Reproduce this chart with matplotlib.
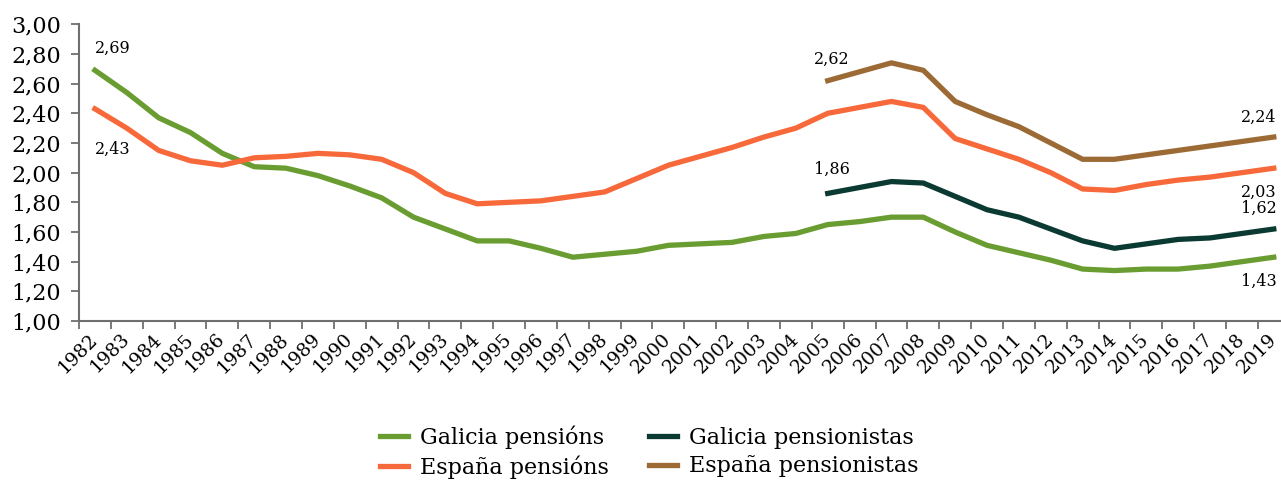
import numpy as np
import matplotlib
matplotlib.use("Agg")
import matplotlib.pyplot as plt
from matplotlib.transforms import ScaledTranslation

plt.rcParams['font.family'] = ['DejaVu Serif']

years = [str(y) for y in range(1982, 2020)]

galicia_pensions = [2.69, 2.54, 2.37, 2.27, 2.13, 2.04, 2.03, 1.98, 1.91, 1.83,
                    1.70, 1.62, 1.54, 1.54, 1.49, 1.43, 1.45, 1.47, 1.51, 1.52,
                    1.53, 1.57, 1.59, 1.65, 1.67, 1.70, 1.70, 1.60, 1.51, 1.46,
                    1.41, 1.35, 1.34, 1.35, 1.35, 1.37, 1.40, 1.43]
espana_pensions = [2.43, 2.30, 2.15, 2.08, 2.05, 2.10, 2.11, 2.13, 2.12, 2.09,
                   2.00, 1.86, 1.79, 1.80, 1.81, 1.84, 1.87, 1.96, 2.05, 2.11,
                   2.17, 2.24, 2.30, 2.40, 2.44, 2.48, 2.44, 2.23, 2.16, 2.09,
                   2.00, 1.89, 1.88, 1.92, 1.95, 1.97, 2.00, 2.03]
# pensionistas series start in 2005
galicia_pensionistas = [np.nan] * 23 + [1.86, 1.90, 1.94, 1.93, 1.84, 1.75, 1.70,
                                        1.62, 1.54, 1.49, 1.52, 1.55, 1.56, 1.59, 1.62]
espana_pensionistas = [np.nan] * 23 + [2.62, 2.68, 2.74, 2.69, 2.48, 2.39, 2.31,
                                       2.20, 2.09, 2.09, 2.12, 2.15, 2.18, 2.21, 2.24]

c_gp = '#6a9d31'
c_ep = '#f7693a'
c_gpi = '#0b3a33'
c_epi = '#9b6a35'

fig = plt.figure(figsize=(12.81, 4.83), dpi=100)
ax = fig.add_axes([79/1281, 1 - 321/483, 1210.7/1281, (321 - 24.3)/483])

x = np.arange(len(years))
lw = 3.8
ax.plot(x, galicia_pensions, color=c_gp, lw=lw, label='Galicia pensións')
ax.plot(x, espana_pensions, color=c_ep, lw=lw, label='España pensións')
ax.plot(x, galicia_pensionistas, color=c_gpi, lw=lw, label='Galicia pensionistas')
ax.plot(x, espana_pensionistas, color=c_epi, lw=lw, label='España pensionistas')

ax.set_xlim(-0.5, len(years) - 0.5)
ax.set_ylim(1.0, 3.0)
yt = np.arange(1.0, 3.01, 0.2)
ax.set_yticks(yt)
ax.set_yticklabels([f"{v:.2f}".replace('.', ',') for v in yt], fontsize=16)

ax.set_xticks(x)
ax.set_xticklabels(years, rotation=45, ha='right', va='center',
                   rotation_mode='anchor', fontsize=13.5)
# shift year labels a little to the right, like the original
for lbl in ax.get_xticklabels():
    lbl.set_transform(lbl.get_transform() + ScaledTranslation(0.06, 0, fig.dpi_scale_trans))
ax.set_xticks(np.arange(-0.5, len(years)), minor=True)
ax.tick_params(axis='x', which='major', length=0, pad=11)
ax.tick_params(axis='x', which='minor', length=6, color='#6f6f6f', width=1.3)
ax.tick_params(axis='y', length=6, color='#6f6f6f', width=1.3, pad=7)

for s in ['top', 'right']:
    ax.spines[s].set_visible(False)
for s in ['left', 'bottom']:
    ax.spines[s].set_color('#6f6f6f')
    ax.spines[s].set_linewidth(1.5)

def fmt(v):
    return f"{v:.2f}".replace('.', ',')

lab_fs = 11.5
def label(i, vals, dx, dy, ha, va):
    ax.annotate(fmt(vals[i]), (i, vals[i]), xytext=(dx, dy),
                textcoords='offset points', ha=ha, va=va, fontsize=lab_fs)

label(0, galicia_pensions, 0, 10, 'left', 'bottom')
label(0, espana_pensions, 0, -23, 'left', 'top')
label(23, espana_pensionistas, -10, 9, 'left', 'bottom')
label(23, galicia_pensionistas, -10, 11, 'left', 'bottom')
label(37, espana_pensionistas, 2, 8, 'right', 'bottom')
label(37, espana_pensions, 2, -11, 'right', 'top')
label(37, galicia_pensionistas, 2, 9, 'right', 'bottom')
label(37, galicia_pensions, 2, -11, 'right', 'top')

fig.legend(loc='center', bbox_to_anchor=(0.507, 0.064), ncol=2, frameon=False,
           fontsize=16, handlelength=1.25, columnspacing=1.8, labelspacing=0.3,
           handletextpad=0.55)

fig.savefig('out.png', dpi=100)
